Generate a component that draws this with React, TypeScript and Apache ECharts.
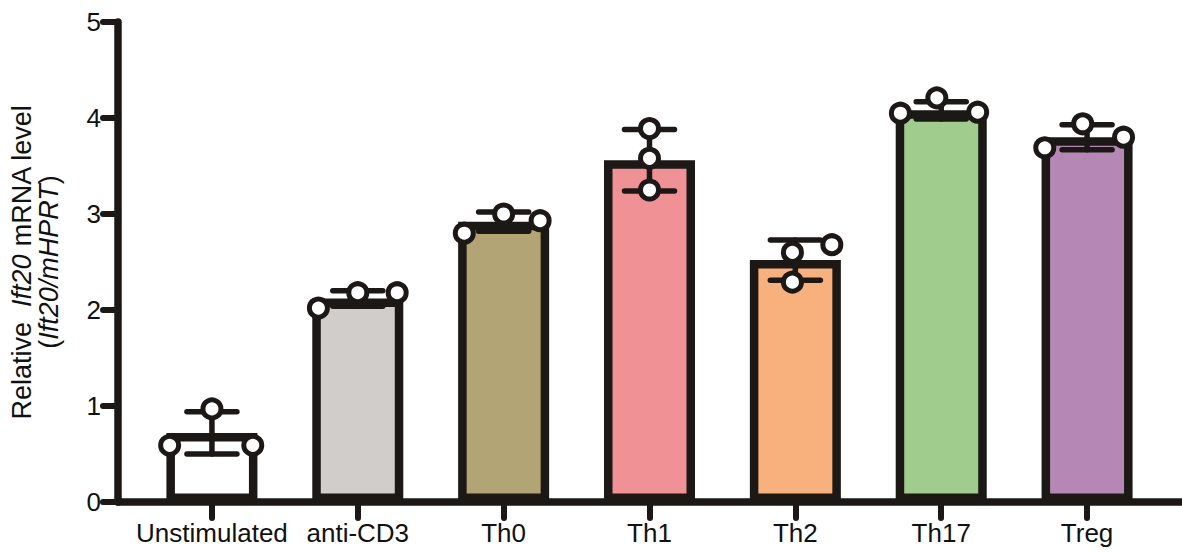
import React, { useEffect, useRef } from "react";
import * as echarts from "echarts";

const categories = ["Unstimulated", "anti-CD3", "Th0", "Th1", "Th2", "Th17", "Treg"];
const means = [0.72, 2.12, 2.92, 3.56, 2.52, 4.08, 3.80];
const sds = [0.22, 0.08, 0.1, 0.32, 0.21, 0.09, 0.13];
const fills = ["#ffffff", "#d0cdcb", "#b3a475", "#f09195", "#f8b17c", "#a0cd8e", "#b487b5"];
const replicates = [
  [0.59, 0.97, 0.59],
  [2.02, 2.18, 2.18],
  [2.8, 3.0, 2.93],
  [3.89, 3.58, 3.25],
  [2.6, 2.29, 2.68],
  [4.05, 4.21, 4.06],
  [3.69, 3.94, 3.8],
];
const jitter = [
  [-0.29, 0, 0.28],
  [-0.27, 0, 0.27],
  [-0.27, 0, 0.25],
  [0, 0, 0],
  [-0.02, -0.02, 0.25],
  [-0.28, -0.03, 0.25],
  [-0.29, -0.03, 0.25],
];
const yTicks = [0, 1, 2, 3, 4, 5];

const INK = "#1b1815";
const FONT = "Liberation Sans, Arial, sans-serif";

export default function App() {
  const ref = useRef<HTMLDivElement>(null);
  useEffect(() => {
    document.body.style.margin = "0";
    const chart = echarts.init(ref.current!, null, { renderer: "svg" });
    const points: number[][] = [];
    replicates.forEach((vals, i) =>
      vals.forEach((v, j) => points.push([i + jitter[i][j], v]))
    );
    const errData = means.map((m, i) => [i, m - sds[i], m + sds[i]]);
    chart.setOption({
      animation: false,
      backgroundColor: "#ffffff",
      grid: [
        { left: 115, right: 0, top: 22, bottom: 50 },
        { left: 139, right: 22, top: 22, bottom: 50 },
      ],
      xAxis: [
        {
          gridIndex: 0,
          type: "value",
          min: 0,
          max: 1,
          axisLine: { show: true, lineStyle: { color: INK, width: 7.5, cap: "round" } },
          axisTick: { show: false },
          axisLabel: { show: false },
          splitLine: { show: false },
        },
        {
          gridIndex: 1,
          type: "category",
          data: categories,
          axisLine: { show: false },
          axisTick: {
            show: true,
            alignWithLabel: true,
            length: 16,
            lineStyle: { color: INK, width: 6, cap: "round" },
          },
          axisLabel: {
            color: "#111",
            fontSize: 26,
            fontFamily: FONT,
            margin: 18,
            interval: 0,
          },
        },
        {
          gridIndex: 1,
          type: "value",
          min: -0.5,
          max: 6.5,
          show: false,
        },
      ],
      yAxis: [
        {
          gridIndex: 0,
          type: "value",
          min: 0,
          max: 5,
          interval: 1,
          axisLine: { show: true, lineStyle: { color: INK, width: 7.5, cap: "round" } },
          axisTick: { show: true, length: 15, lineStyle: { color: INK, width: 6, cap: "round" } },
          axisLabel: {
            color: "#111",
            fontSize: 26,
            fontFamily: FONT,
            margin: 17,
            formatter: (v: number) => (yTicks.includes(v) ? String(v) : ""),
          },
          splitLine: { show: false },
          name: "Relative  {i|Ift20} mRNA level\n({i|Ift20/mHPRT})",
          nameLocation: "middle",
          nameRotate: 90,
          nameGap: 56,
          nameTextStyle: {
            color: "#111",
            fontSize: 27,
            fontFamily: FONT,
            lineHeight: 27,
            rich: {
              i: { fontStyle: "italic", fontSize: 27, fontFamily: FONT, color: "#111", lineHeight: 27 },
            },
          },
        },
        {
          gridIndex: 1,
          type: "value",
          min: 0,
          max: 5,
          show: false,
        },
      ],
      series: [
        {
          type: "bar",
          xAxisIndex: 1,
          yAxisIndex: 1,
          barWidth: 91,
          z: 2,
          data: means.map((m, i) => ({
            value: m,
            itemStyle: { color: fills[i], borderColor: INK, borderWidth: 8.5 },
          })),
        },
        {
          type: "custom",
          xAxisIndex: 1,
          yAxisIndex: 1,
          z: 3,
          data: errData,
          renderItem: (params: any, api: any) => {
            const lo = api.coord([api.value(0), api.value(1)]);
            const hi = api.coord([api.value(0), api.value(2)]);
            const half = 25;
            const style = { stroke: INK, lineWidth: 5.5, lineCap: "round" };
            return {
              type: "group",
              children: [
                { type: "line", shape: { x1: lo[0], y1: lo[1], x2: hi[0], y2: hi[1] }, style },
                { type: "line", shape: { x1: lo[0] - half, y1: lo[1], x2: lo[0] + half, y2: lo[1] }, style },
                { type: "line", shape: { x1: hi[0] - half, y1: hi[1], x2: hi[0] + half, y2: hi[1] }, style },
              ],
            };
          },
        },
        {
          type: "scatter",
          xAxisIndex: 2,
          yAxisIndex: 1,
          z: 4,
          symbol: "circle",
          symbolSize: 18,
          itemStyle: { color: "#ffffff", borderColor: INK, borderWidth: 5, opacity: 1 },
          data: points,
        },
      ],
    });
    return () => chart.dispose();
  }, []);
  return (
    <div
      ref={ref}
      style={{ position: "fixed", left: 0, top: 0, width: 1182, height: 552 }}
    />
  );
}
